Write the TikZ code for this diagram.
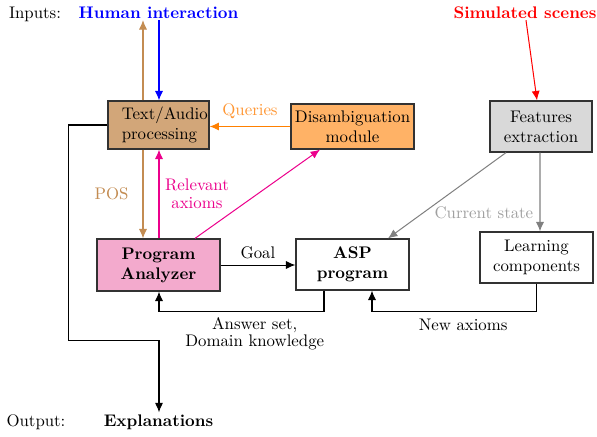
\documentclass[tikz,border=0pt]{standalone}
\usetikzlibrary{arrows.meta,calc}
\definecolor{tanfill}{RGB}{210,166,121}
\definecolor{tanline}{RGB}{195,140,82}
\definecolor{orfill}{RGB}{255,178,102}
\definecolor{orline}{RGB}{255,128,0}
\definecolor{orlabel}{RGB}{255,150,50}
\definecolor{grfill}{RGB}{217,217,217}
\definecolor{pkfill}{RGB}{243,170,205}
\definecolor{magline}{RGB}{236,0,140}
\definecolor{grline}{RGB}{128,128,128}
\definecolor{grlabel}{RGB}{160,160,160}
\definecolor{boxdraw}{RGB}{50,50,50}
\begin{document}
\begin{tikzpicture}[x=0.5952pt,y=-0.5952pt,
  box/.style={draw=boxdraw, line width=0.7pt, rectangle, align=center, inner sep=1pt},
  arr/.style={line width=0.6pt, -{Latex[length=5.6pt,width=4.8pt]}},
  lbl/.style={inner sep=1pt, anchor=base}]
\useasboundingbox (0,0) rectangle (597,436);
\fill[white] (0,0) rectangle (597,436);
% input/output labels
\node[lbl] (inp) at (35,18) {Inputs:};
\node[lbl, blue, font=\bfseries] (hi) at (158.5,18) {Human interaction};
\node[lbl, red, font=\bfseries] (ss) at (525,18) {Simulated scenes};
\node[lbl] (outl) at (36,426) {Output:};
\node[lbl, font=\bfseries] (ex) at (158.5,426) {Explanations};
% boxes
\node[box, fill=tanfill, minimum width=60.1pt, minimum height=28.6pt,
  label={[align=left,anchor=west,xshift=5pt]west:{Text/Audio\\processing}}] (ta) at (158.5,125) {};
\node[box, fill=orfill, minimum width=73.2pt, minimum height=26.8pt] (dis) at (352.5,126.5) {Disambiguation\\module};
\node[box, fill=grfill, minimum width=60.7pt, minimum height=30.4pt] (feat) at (541,126.5) {Features\\extraction};
\node[box, fill=pkfill, minimum width=73.2pt, minimum height=31pt, font=\bfseries] (pa) at (158.5,265) {Program\\Analyzer};
\node[box, minimum width=67.3pt, minimum height=30.4pt, font=\bfseries] (asp) at (352.5,264.5) {ASP\\program};
\node[box, minimum width=67.3pt, minimum height=30.4pt] (lc) at (536.5,257.5) {Learning\\components};
% connectors
\draw[arr, tanline] ($(ta.north)+(-15.5,0)$) -- ($(hi.south)+(-15.5,0)$);
\draw[arr, blue] ($(hi.south)+(0.5,0)$) -- ($(ta.north)+(0.5,0)$);
\draw[arr, red] ($(ss.south)+(1,0)$) -- ($(feat.north)+(-4,0)$);
\draw[arr, orline] (dis.west) -- (dis.west -| ta.east) node[midway, above=1pt, orlabel] {Queries};
\draw[arr, tanline] ($(ta.south)+(-15.5,0)$) -- ($(pa.north)+(-15.5,0)$) node[midway, left=5pt, tanline] {POS};
\draw[arr, magline] ($(pa.north)+(0.5,0)$) -- ($(ta.south)+(0.5,0)$) node[midway, right, align=center, magline] {Relevant\\[-1pt]axioms};
\draw[arr, magline] ($(pa.north)+(36.5,0)$) -- ($(dis.south)+(-32.5,0)$);
\draw[arr] (pa.east) -- (pa.east -| asp.west) node[midway, above] {Goal};
\draw[arr, grline] ($(feat.south)+(-35,0)$) -- ($(asp.north)+(35.5,0)$) node[pos=0.7, anchor=west, xshift=3pt, grlabel] {Current state};
\draw[arr, grline] ($(feat.south)+(-1,0)$) -- ($(lc.north)+(3.5,0)$);
\draw[arr] ($(asp.south)+(-28.5,0)$) -- ++(0,21) -| ($(pa.south)+(0.5,0)$) node[pos=0.21, below=1pt, align=center, inner sep=2pt] {Answer set,\\[-2pt]Domain knowledge};
\draw[arr] (lc.south) -- ++(0,28) -| ($(asp.south)+(19.5,0)$) node[pos=0.223, below=1pt] {New axioms};
\draw[arr] (ta.west) -- ++(-39,0) -- ++(0,215) -| ($(ex.north)+(0.5,0)$);
\end{tikzpicture}
\end{document}
